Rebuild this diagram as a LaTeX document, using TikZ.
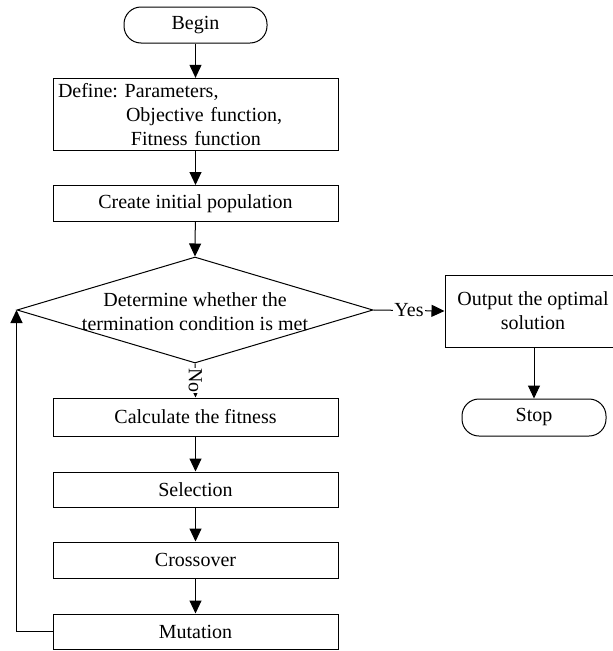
\documentclass[tikz,border=0pt]{standalone}
\usepackage{fontspec}
\setmainfont{Liberation Serif}
\usetikzlibrary{arrows.meta,shapes.geometric}
\begin{document}
\frenchspacing
\begin{tikzpicture}[x=1pt,y=-1pt,
  font=\fontsize{20}{24}\selectfont,
  line width=1pt,
  arr/.style={-{Triangle[length=13pt,width=12pt]}},
  procbox/.style={draw,rectangle,minimum width=285pt,minimum height=36pt,inner sep=0pt},
  termbox/.style={draw,rectangle,rounded corners=17pt,minimum width=143pt,minimum height=36pt,inner sep=0pt},
  lbl/.style={fill=white,inner sep=1pt}]
\useasboundingbox (0,0) rectangle (613,651);
\node[termbox] (begin) at (195.5,25) {Begin};
\node[draw,rectangle,minimum width=285pt,minimum height=71pt,inner sep=5pt,text width=275pt,align=left] (define) at (195.5,114.5)
  {Define: Parameters,\\\hspace*{68pt}Objective function,\\\hspace*{73pt}Fitness function};
\node[procbox] (create) at (195.5,203.5) {Create initial population};
\node[draw,diamond,minimum width=356pt,minimum height=106pt,inner sep=0pt] (dec) at (195,310) {};
\node[align=center,inner sep=0pt] (dectext) at (195,312) {Determine whether the\\termination condition is met};
\node[draw,rectangle,minimum width=176pt,minimum height=72pt,inner sep=0pt,align=center] (output) at (533,311) {Output the optimal\\solution};
\node[termbox,minimum width=144pt,minimum height=37pt] (stop) at (534,417.5) {Stop};
\node[procbox,minimum height=38pt] (calc) at (195.5,417) {Calculate the fitness};
\node[procbox,minimum height=35pt] (sel) at (195.5,489.5) {Selection};
\node[procbox] (cross) at (195.5,560) {Crossover};
\node[procbox,minimum height=35pt] (mut) at (195.5,631.5) {Mutation};
\draw[arr] (begin) -- (define);
\draw[arr] (define) -- (create);
\draw[arr] (create) -- (dec.north);
\draw[arr] (dec.east) -- node[lbl] {Yes} (output.west);
\draw[arr] (output.south -| stop.north) -- (stop.north);
\draw[arr] (dec.south) -- node[fill=white,inner sep=0pt,rotate=-90] {No} (calc.north);
\draw[arr] (calc) -- (sel);
\draw[arr] (sel) -- (cross);
\draw[arr] (cross) -- (mut);
\draw[arr] (mut.west) -| (dec.west);
\end{tikzpicture}
\end{document}
